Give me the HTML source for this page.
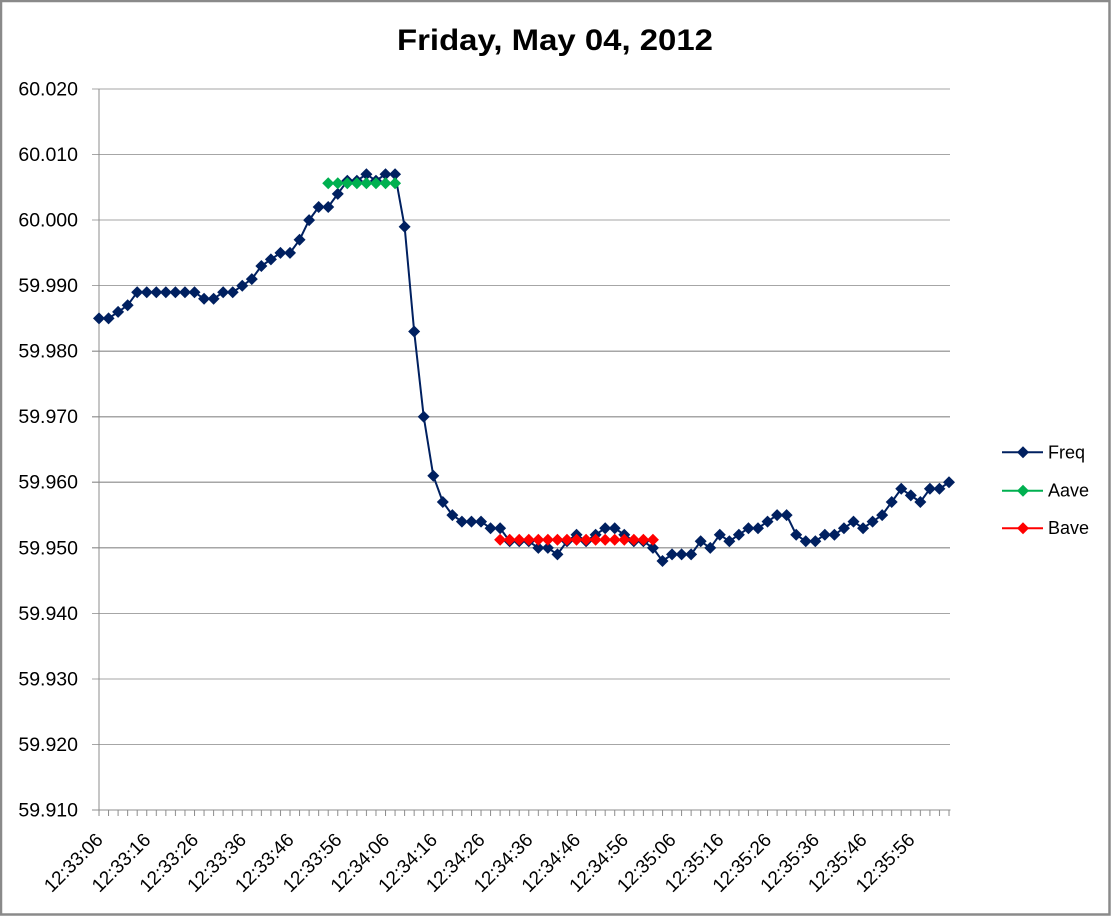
<!DOCTYPE html>
<html>
<head>
<meta charset="utf-8">
<style>
  html,body{margin:0;padding:0;background:#fff;}
  body{width:1111px;height:916px;overflow:hidden;}
  svg{display:block;font-family:"Liberation Sans",Arial,sans-serif;}
</style>
</head>
<body>
<svg width="1111" height="916" viewBox="0 0 1111 916" xmlns="http://www.w3.org/2000/svg">
  <defs>
    <marker id="mN" markerWidth="14" markerHeight="14" refX="7" refY="7" markerUnits="userSpaceOnUse" overflow="visible">
      <path d="M7,1 L13,7 L7,13 L1,7Z" fill="#002060"/>
    </marker>
    <marker id="mG" markerWidth="14" markerHeight="14" refX="7" refY="7" markerUnits="userSpaceOnUse" overflow="visible">
      <path d="M7,1 L13,7 L7,13 L1,7Z" fill="#00b050"/>
    </marker>
    <marker id="mR" markerWidth="14" markerHeight="14" refX="7" refY="7" markerUnits="userSpaceOnUse" overflow="visible">
      <path d="M7,1 L13,7 L7,13 L1,7Z" fill="#ff0000"/>
    </marker>
    <pattern id="tk" x="98.5" y="0" width="9.5506" height="20" patternUnits="userSpaceOnUse">
      <rect x="0" y="0" width="1" height="20" fill="#8c8c8c"/>
    </pattern>
  </defs>

  <rect x="0" y="0" width="1111" height="916" fill="#fff"/>
  <!-- outer border -->
  <rect x="1" y="1" width="1108.5" height="913.5" fill="none" stroke="#8a8a8a" stroke-width="2.5"/>

  <!-- title -->
  <text x="555" y="50" font-size="30" font-weight="bold" text-anchor="middle" textLength="316" lengthAdjust="spacingAndGlyphs" fill="#000">Friday, May 04, 2012</text>

  <!-- gridlines -->
  <g stroke="#a6a6a6" stroke-width="1.2" shape-rendering="crispEdges">
    <line x1="92" y1="89" x2="950" y2="89"/>
    <line x1="92" y1="154.5" x2="950" y2="154.5"/>
    <line x1="92" y1="220" x2="950" y2="220"/>
    <line x1="92" y1="285.6" x2="950" y2="285.6"/>
    <line x1="92" y1="351.2" x2="950" y2="351.2"/>
    <line x1="92" y1="416.7" x2="950" y2="416.7"/>
    <line x1="92" y1="482.3" x2="950" y2="482.3"/>
    <line x1="92" y1="547.8" x2="950" y2="547.8"/>
    <line x1="92" y1="613.4" x2="950" y2="613.4"/>
    <line x1="92" y1="679" x2="950" y2="679"/>
    <line x1="92" y1="744.5" x2="950" y2="744.5"/>
  </g>
  <!-- axes -->
  <g stroke="#8c8c8c" stroke-width="1.2" shape-rendering="crispEdges">
    <line x1="99" y1="89" x2="99" y2="810"/>
    <line x1="92" y1="810" x2="950.5" y2="810"/>
  </g>
  <rect x="98" y="810" width="853.5" height="6" fill="url(#tk)"/>

  <!-- y labels -->
  <g font-size="19.5" text-anchor="end" fill="#000">
    <text x="78" y="95.5">60.020</text>
    <text x="78" y="161">60.010</text>
    <text x="78" y="226.5">60.000</text>
    <text x="78" y="292">59.990</text>
    <text x="78" y="357.6">59.980</text>
    <text x="78" y="423.2">59.970</text>
    <text x="78" y="488.7">59.960</text>
    <text x="78" y="554.3">59.950</text>
    <text x="78" y="619.8">59.940</text>
    <text x="78" y="685.4">59.930</text>
    <text x="78" y="751">59.920</text>
    <text x="78" y="816.5">59.910</text>
  </g>

  <!-- x labels -->
  <g font-size="19" text-anchor="end" fill="#000">
    <text transform="translate(104,841) rotate(-45)">12:33:06</text>
    <text transform="translate(151.75,841) rotate(-45)">12:33:16</text>
    <text transform="translate(199.5,841) rotate(-45)">12:33:26</text>
    <text transform="translate(247.3,841) rotate(-45)">12:33:36</text>
    <text transform="translate(295,841) rotate(-45)">12:33:46</text>
    <text transform="translate(342.8,841) rotate(-45)">12:33:56</text>
    <text transform="translate(390.5,841) rotate(-45)">12:34:06</text>
    <text transform="translate(438.3,841) rotate(-45)">12:34:16</text>
    <text transform="translate(486,841) rotate(-45)">12:34:26</text>
    <text transform="translate(533.8,841) rotate(-45)">12:34:36</text>
    <text transform="translate(581.5,841) rotate(-45)">12:34:46</text>
    <text transform="translate(629.3,841) rotate(-45)">12:34:56</text>
    <text transform="translate(677,841) rotate(-45)">12:35:06</text>
    <text transform="translate(724.8,841) rotate(-45)">12:35:16</text>
    <text transform="translate(772.5,841) rotate(-45)">12:35:26</text>
    <text transform="translate(820.3,841) rotate(-45)">12:35:36</text>
    <text transform="translate(868,841) rotate(-45)">12:35:46</text>
    <text transform="translate(915.8,841) rotate(-45)">12:35:56</text>
  </g>

  <!-- Freq series -->
  <polyline fill="none" stroke="#002060" stroke-width="2" stroke-linejoin="round"
    marker-start="url(#mN)" marker-mid="url(#mN)" marker-end="url(#mN)"
    points="99,318.4 108.55,318.4 118.1,311.9 127.65,305.3 137.2,292.2 146.75,292.2 156.3,292.2 165.85,292.2 175.4,292.2 184.96,292.2 194.51,292.2 204.06,298.8 213.61,298.8 223.16,292.2 232.71,292.2 242.26,285.7 251.81,279.1 261.36,266 270.91,259.4 280.46,252.9 290.01,252.9 299.56,239.8 309.11,220.1 318.66,207 328.21,207 337.77,193.9 347.32,180.8 356.87,180.8 366.42,174.2 375.97,180.8 385.52,174.2 395.07,174.2 404.62,226.7 414.17,331.5 423.72,416.75 433.27,475.7 442.82,502 452.37,515.1 461.92,521.6 471.47,521.6 481.02,521.6 490.57,528.2 500.13,528.2 509.68,541.3 519.23,541.3 528.78,541.3 538.33,547.9 547.88,547.9 557.43,554.4 566.98,541.3 576.53,534.7 586.08,541.3 595.63,534.7 605.18,528.2 614.73,528.2 624.28,534.7 633.83,541.3 643.38,541.3 652.93,547.9 662.49,561 672.04,554.4 681.59,554.4 691.14,554.4 700.69,541.3 710.24,547.9 719.79,534.7 729.34,541.3 738.89,534.7 748.44,528.2 757.99,528.2 767.54,521.6 777.09,515.1 786.64,515.1 796.19,534.7 805.74,541.3 815.3,541.3 824.85,534.7 834.4,534.7 843.95,528.2 853.5,521.6 863.05,528.2 872.6,521.6 882.15,515.1 891.7,502 901.25,488.8 910.8,495.4 920.35,502 929.9,488.8 939.45,488.8 949,482.3"/>

  <!-- Aave series -->
  <polyline fill="none" stroke="#00b050" stroke-width="2"
    marker-start="url(#mG)" marker-mid="url(#mG)" marker-end="url(#mG)"
    points="328.21,183.2 337.77,183.2 347.32,183.2 356.87,183.2 366.42,183.2 375.97,183.2 385.52,183.2 395.07,183.2"/>

  <!-- Bave series -->
  <polyline fill="none" stroke="#ff0000" stroke-width="2"
    marker-start="url(#mR)" marker-mid="url(#mR)" marker-end="url(#mR)"
    points="500.13,539.75 509.68,539.75 519.23,539.75 528.78,539.75 538.33,539.75 547.88,539.75 557.43,539.75 566.98,539.75 576.53,539.75 586.08,539.75 595.63,539.75 605.18,539.75 614.73,539.75 624.28,539.75 633.83,539.75 643.38,539.75 652.93,539.75"/>

  <!-- legend -->
  <g>
    <line x1="1002" y1="452.3" x2="1043" y2="452.3" stroke="#002060" stroke-width="2"/>
    <path d="M1023,446.3 L1029,452.3 L1023,458.3 L1017,452.3Z" fill="#002060"/>
    <text x="1048" y="458.3" font-size="18" fill="#000">Freq</text>

    <line x1="1002" y1="490.7" x2="1043" y2="490.7" stroke="#00b050" stroke-width="2"/>
    <path d="M1023,484.7 L1029,490.7 L1023,496.7 L1017,490.7Z" fill="#00b050"/>
    <text x="1048" y="496.5" font-size="18" fill="#000">Aave</text>

    <line x1="1002" y1="528.3" x2="1043" y2="528.3" stroke="#ff0000" stroke-width="2"/>
    <path d="M1023,522.3 L1029,528.3 L1023,534.3 L1017,528.3Z" fill="#ff0000"/>
    <text x="1048" y="534" font-size="18" fill="#000">Bave</text>
  </g>
</svg>
</body>
</html>
